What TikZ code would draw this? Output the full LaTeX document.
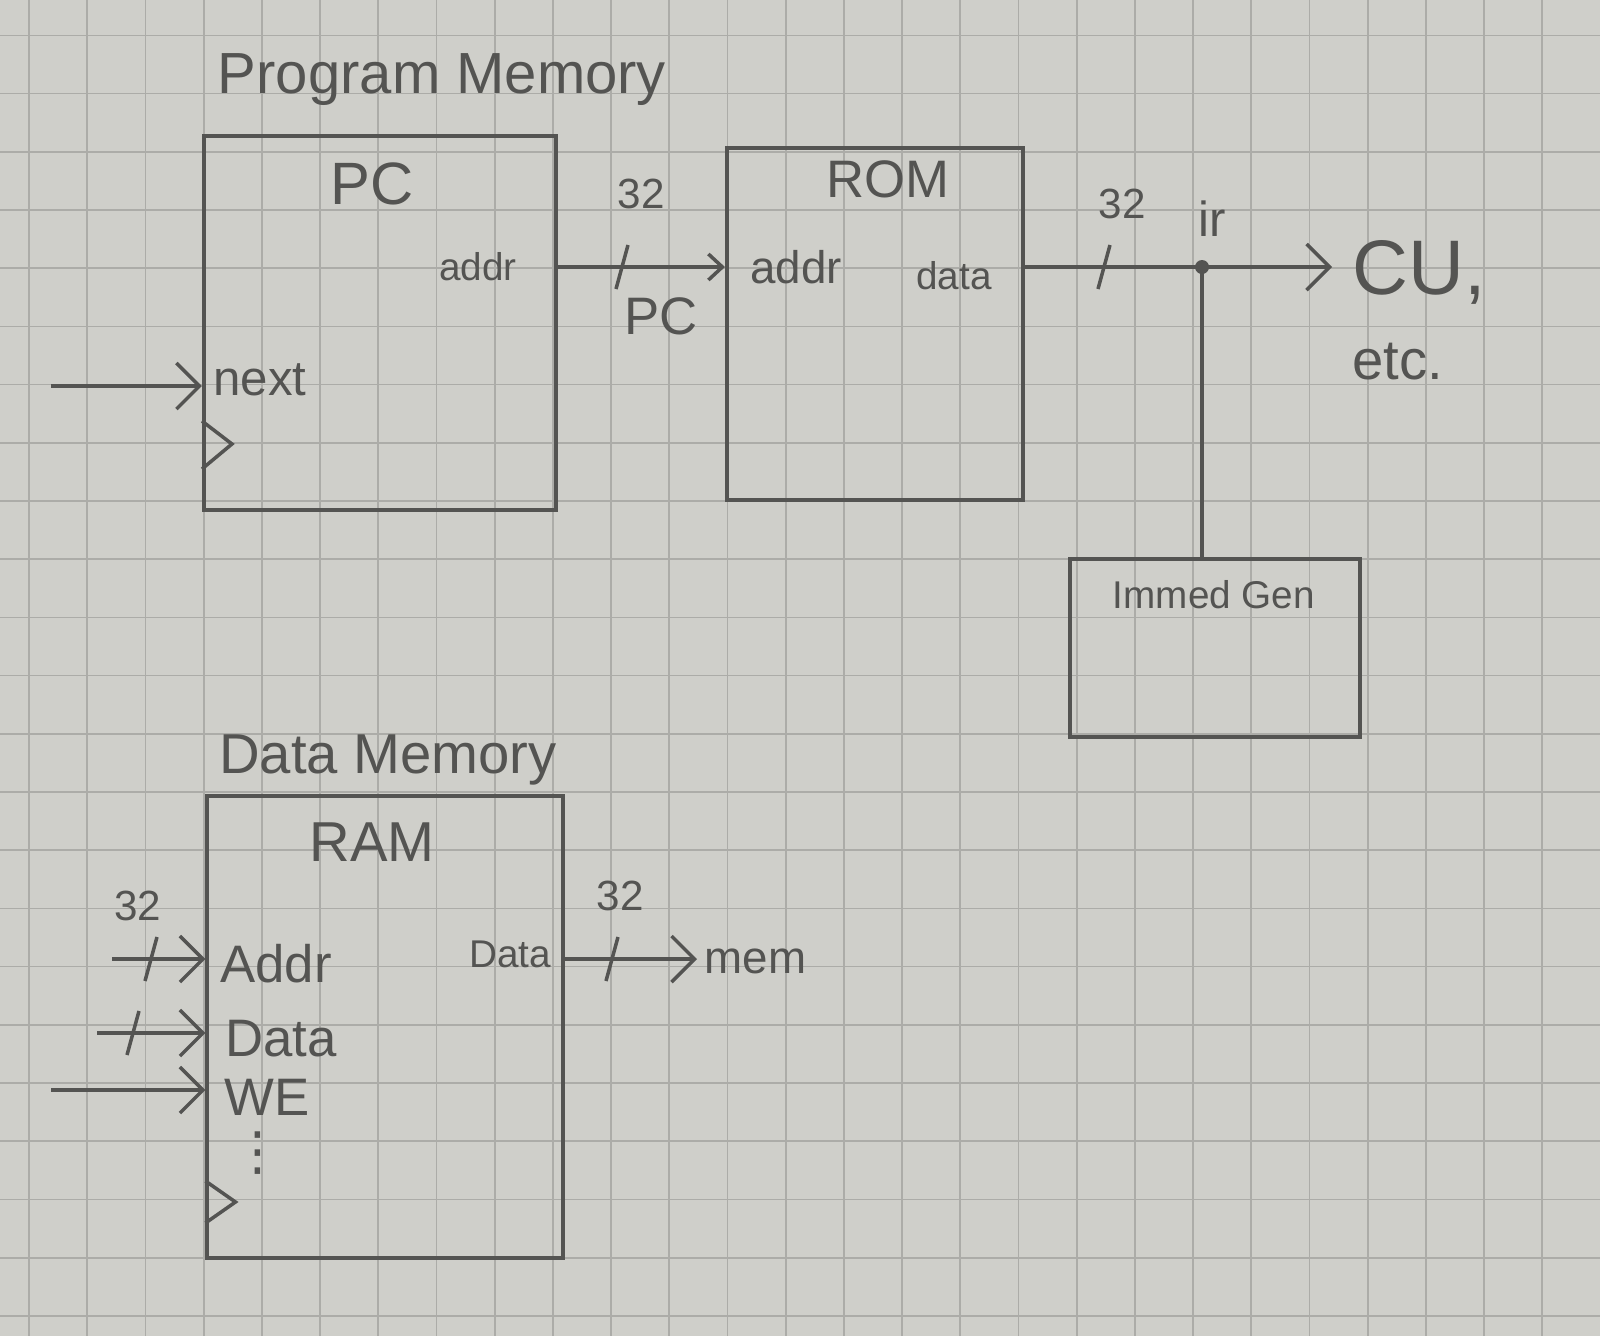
\documentclass[tikz,border=0pt]{standalone}
\usepackage{fontspec}
\setmainfont{Liberation Sans}
\newfontfamily\symfont{DejaVu Sans}
\usetikzlibrary{arrows.meta}

\definecolor{pencil}{RGB}{84,84,82}
\definecolor{paper}{RGB}{207,207,202}
\definecolor{gridline}{RGB}{172,172,168}

\tikzset{
  block/.style={shape=rectangle, draw=pencil, line width=1.1pt},
  wire/.style={draw=pencil, line width=1pt},
  arr/.style={wire, -{Straight Barb[length=2.3mm,width=4.6mm,line width=1pt]}},
  smallarr/.style={wire, -{Straight Barb[length=1.4mm,width=2.6mm,line width=1pt]}},
  lbl/.style={text=pencil, inner sep=0pt},
}
\newcommand{\fsz}[1]{\fontsize{#1}{#1}\selectfont}
\newcommand{\busmark}[1]{\draw[wire] ([shift={(6,-22)}]#1) -- ([shift={(-6,22)}]#1);}

\begin{document}
\begin{tikzpicture}[x=0.01cm, y=-0.01cm]
    % paper
    \fill[paper] (0,0) rectangle (1600,1336);
    \useasboundingbox (0,0) rectangle (1600,1336);
    \foreach \i in {0,...,26}
        \draw[gridline, line width=0.5pt] (29.1+58.2*\i,0) -- ++(0,1336);
    \foreach \j in {0,...,22}
        \draw[gridline, line width=0.5pt] (0,35.4+58.2*\j) -- ++(1600,0);

    % blocks
    \node[block, minimum width=3.52cm, minimum height=3.74cm] (pc) at (380,323) {};
    \node[block, minimum width=2.96cm, minimum height=3.52cm] (rom) at (875,324) {};
    \node[block, minimum width=2.89cm, minimum height=1.78cm] (imm) at (1215,648) {};
    \node[block, minimum width=3.55cm, minimum height=4.62cm] (ram) at (385,1027) {};

    % titles and port labels
    \node[lbl, font=\fsz{16.5}] (pmtitle) at (442,80) {Program Memory};
    \node[lbl, font=\fsz{17}] (pclbl) at (372,184) {PC};
    \node[lbl, font=\fsz{11}] (pcaddrlbl) at (478,267) {addr};
    \node[lbl, font=\fsz{14}] (nextlbl) at (260,380) {next};
    \node[lbl, font=\fsz{15}] (romlbl) at (888,179) {ROM};
    \node[lbl, font=\fsz{13}] (romaddrlbl) at (796,267) {addr};
    \node[lbl, font=\fsz{11}] (romdatalbl) at (954,276) {data};
    \node[lbl, font=\fsz{11}] (immlbl) at (1214,595) {Immed Gen};
    \node[lbl, font=\fsz{16}] (dmtitle) at (388,760) {Data Memory};
    \node[lbl, font=\fsz{16}] (ramlbl) at (372,842) {RAM};
    \node[lbl, font=\fsz{15}] (addrlbl) at (276,964) {Addr};
    \node[lbl, font=\fsz{15}] (datalbl) at (281,1039) {Data};
    \node[lbl, font=\fsz{15}] (welbl) at (267,1097) {WE};
    \node[lbl, font=\symfont\fsz{15}] (morelbl) at (258,1153) {⋮};
    \node[lbl, font=\fsz{11}] (ramdatalbl) at (510,954) {Data};

    % port points
    \coordinate (pcaddr) at (pc.east |- 0,267);
    \coordinate (romaddr) at (rom.west |- 0,267);
    \coordinate (romdata) at (rom.east |- 0,267);
    \coordinate (ir) at (1202,267);
    \coordinate (cu) at (1332,267);
    \coordinate (nextin) at (51,386);
    \coordinate (addrin) at (112,959);
    \coordinate (datain) at (97,1033);
    \coordinate (wein) at (51,1090);
    \coordinate (ramdata) at (ram.east |- 0,959);
    \coordinate (memout) at (697,959);

    % program memory buses
    \draw[smallarr] (pcaddr) -- (romaddr);
    \busmark{622,267}
    \node[lbl, font=\fsz{12}] (w1) at (641,194) {32};
    \node[lbl, font=\fsz{15}] (buspc) at (661,316) {PC};

    \draw[wire] (romdata) -- (ir);
    \draw[arr] (ir) -- (cu);
    \draw[wire] (ir) -- (ir |- imm.north);
    \fill[pencil] (ir) circle[radius=0.07cm];
    \busmark{1104,267}
    \node[lbl, font=\fsz{12}] (w2) at (1122,204) {32};
    \node[lbl, font=\fsz{14}] (irlbl) at (1212,219) {ir};
    \node[lbl, font=\fsz{22}, anchor=west] (culbl) at (1352,272) {CU,};
    \node[lbl, font=\fsz{16}] (etclbl) at (1398,362) {etc.};

    \draw[arr] (nextin) -- (nextin -| pc.west);
    \draw[wire] (pc.west |- 0,421) -- ++(30,23) -- ++(-30,25);

    % data memory buses
    \node[lbl, font=\fsz{12}] (w3) at (138,906) {32};
    \draw[arr] (addrin) -- (addrin -| ram.west);
    \busmark{151,959}
    \draw[arr] (datain) -- (datain -| ram.west);
    \busmark{133,1033}
    \draw[arr] (wein) -- (wein -| ram.west);
    \draw[wire] (ram.west |- 0,1181) -- ++(30,21) -- ++(-30,21);

    \draw[arr] (ramdata) -- (memout);
    \busmark{612,959}
    \node[lbl, font=\fsz{12}] (w4) at (620,896) {32};
    \node[lbl, font=\fsz{13}, anchor=west] (memlbl) at (704,961) {mem};

\end{tikzpicture}
\end{document}
